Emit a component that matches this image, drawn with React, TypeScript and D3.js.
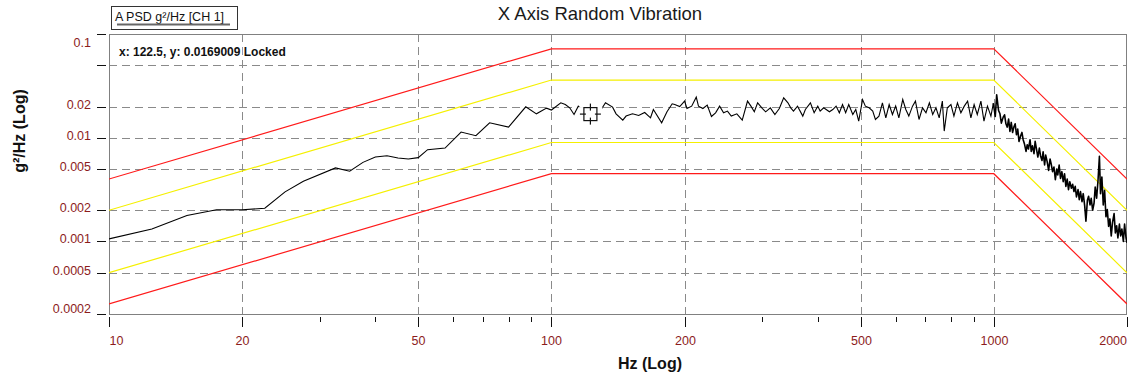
import * as d3 from "d3"

// axis ticks
const freqTicks = [10, 20, 50, 100, 200, 500, 1000, 2000]
const freqMinorTicks = [30, 40, 60, 70, 80, 90, 300, 400, 600, 700, 800, 900]
const freqGrid = [20, 50, 100, 200, 500, 1000]
const psdTicks = [0.1, 0.05, 0.02, 0.01, 0.005, 0.002, 0.001, 0.0005, 0.0002]
const psdTickLabels = ["0.1", "", "0.02", "0.01", "0.005", "0.002", "0.001", "0.0005", "0.0002"]

// test profile tolerance bands (abort +/-6 dB, alarm +/-3 dB)
const profileHz = [10, 100, 1000, 2000]
const abortHigh = [0.004, 0.072, 0.072, 0.004]
const alarmHigh = [0.002, 0.036, 0.036, 0.002]
const alarmLow = [0.0005, 0.009, 0.009, 0.0005]
const abortLow = [0.00025, 0.0045, 0.0045, 0.00025]

// measured PSD [Hz, g²/Hz]
const lowBand: [number, number][] = [
  [10, 0.00106], [12.5, 0.00132], [15, 0.00178], [17.5, 0.00202], [20, 0.00202], [22.5, 0.00209],
  [25, 0.00301], [27.5, 0.0038], [32.5, 0.00512], [35, 0.00475], [37.5, 0.00579], [40, 0.00652],
  [42.5, 0.00671], [45, 0.00638], [47.5, 0.00624], [50, 0.00643], [52.5, 0.00767], [57.5, 0.00796],
  [62.5, 0.01135], [67.5, 0.01045], [72.5, 0.01393], [80, 0.01267], [87.5, 0.01987], [92.5, 0.017],
  [97.5, 0.0193], [100, 0.0185],
]
const midBand: [number, number][] = [
  [105, 0.02171], [107.5, 0.0209], [110, 0.01943], [112.5, 0.01675], [115, 0.02017], [117.5, 0.0185],
  [120, 0.0175], [122.5, 0.0169], [125, 0.0172], [127.5, 0.0185], [130, 0.01913], [132.5, 0.02171],
  [137.5, 0.01973], [140, 0.01701], [145, 0.0148], [147.5, 0.01617], [152.5, 0.01701], [157.5, 0.01638],
  [162.5, 0.0175], [167.5, 0.01557], [170, 0.01871], [177.5, 0.01394], [182.5, 0.01778], [187.5, 0.02124],
  [190, 0.0209], [195, 0.02], [200, 0.02254], [202.5, 0.01913], [207.5, 0.02017], [212.5, 0.02462],
  [215, 0.02017], [220, 0.01913], [225, 0.02063], [230, 0.01602], [235, 0.0174], [240, 0.02017],
  [245, 0.0174], [250, 0.01806], [255, 0.01617], [262.5, 0.01701], [270, 0.0148], [277.5, 0.02254],
  [282.5, 0.02017], [287.5, 0.01778], [292.5, 0.02171], [300, 0.01913], [305, 0.01778], [312.5, 0.01943],
  [320, 0.01675], [327.5, 0.01913], [335, 0.02424], [342.5, 0.02171], [347.5, 0.01943], [352.5, 0.01806],
  [360, 0.02017], [370, 0.01617], [375, 0.01871], [385, 0.02171], [392.5, 0.0174], [400, 0.02017],
  [405, 0.01806], [412.5, 0.01943], [425, 0.01778], [432.5, 0.01871], [440, 0.02017], [447.5, 0.0174],
  [455, 0.0209], [462.5, 0.0174], [470, 0.0209], [480, 0.01675], [487.5, 0.01871], [495, 0.01447],
  [505, 0.02335], [512.5, 0.02017], [522.5, 0.01943], [532.5, 0.01806], [540, 0.015], [550, 0.01617],
  [560, 0.02171], [570, 0.01557], [580, 0.0209], [590, 0.01675], [600, 0.02017], [610, 0.01557],
  [622.5, 0.02335], [632.5, 0.01871], [642.5, 0.01617], [655, 0.02017], [665, 0.02254], [677.5, 0.015],
  [690, 0.01943], [702.5, 0.0174], [715, 0.02171], [727.5, 0.01675], [740, 0.01943], [752.5, 0.01557],
  [765, 0.02254], [772.5, 0.0116], [785, 0.01943], [800, 0.0209], [812.5, 0.01617], [827.5, 0.02171],
  [842.5, 0.0174], [857.5, 0.02017], [872.5, 0.02254], [887.5, 0.01557], [902.5, 0.0209], [917.5, 0.01675],
  [935, 0.02254], [950, 0.01447], [967.5, 0.02017], [985, 0.01617], [997.5, 0.0215],
]
const highBand: [number, number][] = [
  [1007.5, 0.01603], [1015, 0.02591], [1025, 0.01831], [1032.5, 0.01701], [1040, 0.01384], [1050, 0.0158],
  [1057.5, 0.01664], [1065, 0.01364], [1072.5, 0.01267], [1080, 0.01512], [1087.5, 0.0115], [1095, 0.01405],
  [1102.5, 0.01125], [1110, 0.01267], [1117.5, 0.01364], [1125, 0.01069], [1132.5, 0.01212], [1140, 0.00922],
  [1150, 0.01045], [1157.5, 0.01125], [1165, 0.00957], [1172.5, 0.00876], [1182.5, 0.00739], [1190, 0.00857],
  [1197.5, 0.00778], [1207.5, 0.00957], [1215, 0.00739], [1222.5, 0.00838], [1232.5, 0.00702], [1240, 0.00922],
  [1250, 0.00755], [1257.5, 0.00652], [1267.5, 0.00795], [1275, 0.00671], [1285, 0.00605], [1292.5, 0.00733],
  [1302.5, 0.00546], [1310, 0.00681], [1320, 0.00588], [1330, 0.00485], [1340, 0.00624], [1347.5, 0.00562],
  [1357.5, 0.00471], [1367.5, 0.00522], [1377.5, 0.00395], [1387.5, 0.005], [1395, 0.00438], [1405, 0.00546],
  [1415, 0.00406], [1425, 0.00471], [1435, 0.00377], [1445, 0.0045], [1455, 0.0034], [1465, 0.004],
  [1475, 0.00316], [1485, 0.00377], [1497.5, 0.00326], [1507.5, 0.00356], [1517.5, 0.00303], [1527.5, 0.0034],
  [1537.5, 0.00269], [1550, 0.00316], [1560, 0.00253], [1570, 0.00303], [1582.5, 0.00242], [1592.5, 0.00289],
  [1605, 0.00219], [1615, 0.00157], [1627.5, 0.0025], [1637.5, 0.00273], [1650, 0.00225], [1660, 0.00261],
  [1672.5, 0.002], [1685, 0.00235], [1695, 0.00335], [1707.5, 0.00261], [1720, 0.00389], [1732.5, 0.00661],
  [1742.5, 0.00289], [1755, 0.00419], [1767.5, 0.00225], [1780, 0.00312], [1792.5, 0.00173], [1805, 0.00203],
  [1817.5, 0.0014], [1830, 0.00165], [1842.5, 0.00113], [1855, 0.00153], [1870, 0.00186], [1882.5, 0.00121],
  [1895, 0.00142], [1907.5, 0.00108], [1922.5, 0.00147], [1935, 0.00113], [1947.5, 0.00132], [1962.5, 0.001],
  [1975, 0.00147], [1990, 0.00108], [2000, 0.00097],
]

const cursorHz = 122.5
const cursorPsd = 0.0169009

const W = 1130
const H = 377
const plot = { left: 109, right: 1127, top: 34, bottom: 314 }
const FONT = "'Liberation Sans', Arial, sans-serif"
const LABEL = "#8c1c1c"
const GRID = "#8a8a8a"
const AXIS = "#808080"

export default function App() {
  const x = d3.scaleLog().domain([10, 2000]).range([plot.left, plot.right])
  const y = d3.scaleLog().domain([0.0002, 0.1]).range([plot.bottom, plot.top])
  const line = d3
    .line<[number, number]>()
    .x((d) => x(d[0]))
    .y((d) => y(d[1]))

  const band = (vals: number[]) => line(profileHz.map((f, i) => [f, vals[i]] as [number, number])) || ""
  const trace = [...lowBand, ...midBand]
  // dense part above 1 kHz draws heavier, like the many overlapping FFT lines
  const tail = [midBand[midBand.length - 1], ...highBand]

  const cx = x(cursorHz)
  const cy = y(cursorPsd)
  const box = 13

  return (
    <svg
      width={W}
      height={H}
      style={{ position: "absolute", left: 0, top: 0, background: "#fff" }}
      fontFamily={FONT}
    >
      <defs>
        <clipPath id="plotClip">
          <rect x={plot.left} y={plot.top} width={plot.right - plot.left} height={plot.bottom - plot.top} />
        </clipPath>
      </defs>

      {/* title */}
      <text x={600} y={20} textAnchor="middle" fontSize={18.5} fill="#1a1a1a">
        X Axis Random Vibration
      </text>

      {/* legend box */}
      <rect x={111.5} y={6.5} width={126} height={23} fill="#fff" stroke="#333" />
      <text x={115} y={21} fontSize={12.5} fill="#111">
        A PSD g²/Hz [CH 1]
      </text>
      <line x1={117} x2={230} y1={24.5} y2={24.5} stroke="#666" strokeWidth={2} />

      {/* grid */}
      {psdTicks.slice(1, -1).map((t) => (
        <line
          key={"hg" + t}
          x1={plot.left}
          x2={plot.right}
          y1={Math.round(y(t)) + 0.5}
          y2={Math.round(y(t)) + 0.5}
          stroke={GRID}
          strokeDasharray="8,5"
        />
      ))}
      {freqGrid.map((f) => (
        <line
          key={"vg" + f}
          x1={Math.round(x(f)) + 0.5}
          x2={Math.round(x(f)) + 0.5}
          y1={plot.top}
          y2={plot.bottom}
          stroke={GRID}
          strokeDasharray="8,5"
        />
      ))}

      {/* frame */}
      <rect
        x={plot.left + 0.5}
        y={plot.top + 0.5}
        width={plot.right - plot.left - 1}
        height={plot.bottom - plot.top}
        fill="none"
        stroke={AXIS}
      />

      {/* cursor readout */}
      <text x={119} y={56} fontSize={12} fontWeight="bold" fill="#111" stroke="#fff" strokeWidth={3} paintOrder="stroke">
        x: {cursorHz}, y: {cursorPsd} Locked
      </text>

      {/* tolerance bands and trace */}
      <g clipPath="url(#plotClip)" fill="none" strokeWidth={1.2}>
        <path d={band(abortHigh)} stroke="#ff1a1a" />
        <path d={band(abortLow)} stroke="#ff1a1a" />
        <path d={band(alarmHigh)} stroke="#f5f000" />
        <path d={band(alarmLow)} stroke="#f5f000" />
        <path d={line(trace) || ""} stroke="#000" strokeWidth={1.1} />
        <path d={line(tail) || ""} stroke="#000" strokeWidth={1.6} strokeLinejoin="round" />
      </g>

      {/* cursor */}
      <rect x={cx - 12} y={cy - 7} width={24} height={14} fill="#fff" />
      <g stroke="#111" strokeWidth={1.2} fill="none">
        <rect x={cx - box / 2} y={cy - box / 2} width={box} height={box} />
        <line x1={cx} x2={cx} y1={cy - box / 2 - 4} y2={cy - box / 2 + 3} />
        <line x1={cx} x2={cx} y1={cy + box / 2 - 3} y2={cy + box / 2 + 4} />
        <line x1={cx - box / 2 - 4} x2={cx - box / 2 + 2} y1={cy} y2={cy} />
        <line x1={cx + box / 2 - 2} x2={cx + box / 2 + 4} y1={cy} y2={cy} />
      </g>

      {/* y axis */}
      {psdTicks.map((t, i) => {
        const ty = Math.round(y(t)) + 0.5
        const base = Math.min(Math.max(ty + 1.5, 46.5), 312.5)
        return (
          <g key={"yt" + t}>
            <line x1={97} x2={106} y1={ty} y2={ty} stroke="#111" />
            {psdTickLabels[i] && (
              <text x={91} y={base} textAnchor="end" fontSize={12.5} fill={LABEL}>
                {psdTickLabels[i]}
              </text>
            )}
          </g>
        )
      })}
      <text
        transform={`translate(25, 131) rotate(-90)`}
        textAnchor="middle"
        fontSize={16}
        fontWeight="bold"
        fill="#111"
      >
        g²/Hz (Log)
      </text>

      {/* x axis */}
      {freqMinorTicks.map((f) => (
        <line
          key={"xm" + f}
          x1={Math.round(x(f)) + 0.5}
          x2={Math.round(x(f)) + 0.5}
          y1={317}
          y2={322}
          stroke="#111"
        />
      ))}
      {freqTicks.map((f, i) => {
        const tx = Math.round(x(f)) + 0.5
        const anchor = i === 0 ? "start" : i === freqTicks.length - 1 ? "end" : "middle"
        return (
          <g key={"xt" + f}>
            <line x1={tx} x2={tx} y1={317} y2={327} stroke="#111" />
            <text x={i === freqTicks.length - 1 ? plot.right : tx} y={345} textAnchor={anchor} fontSize={12.5} fill={LABEL}>
              {f}
            </text>
          </g>
        )
      })}
      <text x={650} y={369} textAnchor="middle" fontSize={16} fontWeight="bold" fill="#111">
        Hz (Log)
      </text>
    </svg>
  )
}
